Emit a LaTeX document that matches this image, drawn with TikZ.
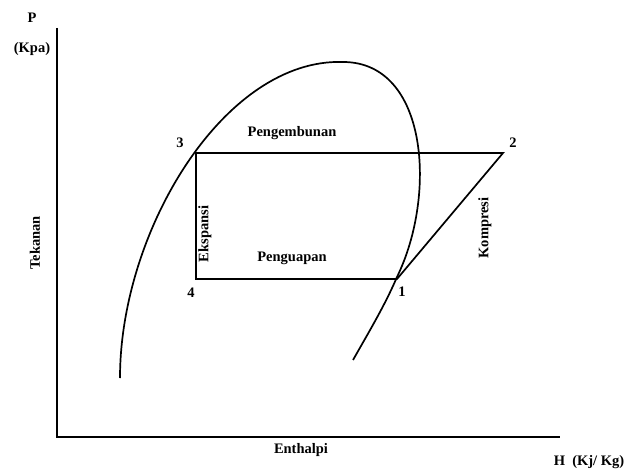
\documentclass[tikz,border=0pt]{standalone}
\usepackage{fontspec}
\setmainfont{Liberation Serif}
\usetikzlibrary{positioning}
\tikzset{
  axis/.style={line width=1.9pt, draw=black},
  dome/.style={line width=1.7pt, draw=black},
  cycleline/.style={line width=1.7pt, draw=black, line join=miter},
  lbl/.style={font=\fontsize{14.5}{16}\selectfont\bfseries, inner sep=0pt},
  num/.style={lbl},
}

\begin{document}
\begin{tikzpicture}[x=1pt,y=-1pt]
        \useasboundingbox (0,0) rectangle (634,470);
        % axes
        \coordinate (org) at (57,437);
        \coordinate (ytop) at (57,28);
        \coordinate (xend) at (560,437);
        \draw[axis] (ytop) -- (org) -- (xend);
        \node[lbl] (pname) at (32,18) {P};
        \node[lbl] (punit) at (32,49) {(Kpa)};
        \node[lbl, rotate=90] (pres) at (35,243) {Tekanan};
        \node[lbl] (enth) at (301,450) {Enthalpi};
        \node[lbl] (hunit) at (589,462) {H\ \ (Kj/ Kg)};
        % saturation dome
        \coordinate (dleft) at (120,378);
        \coordinate (dtop) at (343,62);
        \coordinate (dend) at (353,360);
        \draw[dome] (dleft) .. controls (120,230) and (225,58) .. (dtop)
          .. controls (428,62) and (437,195) .. (397,277)
          .. controls (385,305) and (370,330) .. (dend);
        % cycle
        \coordinate (c1) at (397,279);
        \coordinate (c2) at (503,153);
        \coordinate (c3) at (196,153);
        \coordinate (c4) at (196,279);
        \draw[cycleline] (c3) -- (c2) -- (c1) -- (c4) -- cycle;
        \node[num] (n1) at (402,292) {1};
        \node[num] (n2) at (513,143) {2};
        \node[num] (n3) at (180,143) {3};
        \node[num] (n4) at (191,293) {4};
        \node[lbl] (cond) at (292,133) {Pengembunan};
        \node[lbl] (evap) at (292,258) {Penguapan};
        \node[lbl, rotate=90] (expn) at (205,234) {Ekspansi};
        \node[lbl, rotate=90] (comp) at (485,228) {Kompresi};
      \end{tikzpicture}
\end{document}
